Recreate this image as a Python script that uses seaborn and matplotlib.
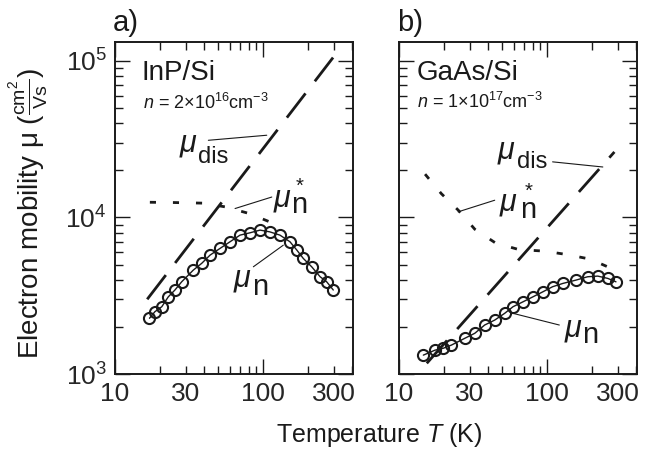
import numpy as np
import matplotlib
matplotlib.use("Agg")
import matplotlib.pyplot as plt
import seaborn as sb
from matplotlib.ticker import FixedLocator, LogLocator, NullFormatter

# DATA
#-----------------------
# panel a) InP/Si
inp_T = [17.1, 18.6, 20.7, 22.9, 25.4, 28.2, 33.8, 38.5, 43.9, 51.2, 59.8, 69.9,
         81.7, 95.4, 111, 130, 152, 169, 187, 213, 243, 269, 298]
inp_mu = [2270, 2500, 2690, 3110, 3440, 3880, 4610, 5090, 5750, 6340, 6990, 7710,
          7980, 8300, 8090, 7710, 6990, 6190, 5470, 4840, 4180, 3880, 3440]
inp_dis_T = [16.5, 297]
inp_dis_mu = [3000, 105000]
inp_star_T = [17.2, 25, 39.3, 55.3, 80.4, 115]
inp_star_mu = [12500, 12450, 12340, 11690, 10600, 9240]

# panel b) GaAs/Si
gaas_T = [14.6, 17.5, 19.9, 22.6, 27.8, 32.5, 37.9, 44.3, 51.7, 58.9, 68.7, 80.2,
          93.7, 109, 128, 157, 188, 220, 257, 292]
gaas_mu = [1320, 1420, 1460, 1530, 1690, 1820, 2055, 2210, 2440, 2690, 2890, 3110,
           3350, 3610, 3790, 3980, 4180, 4220, 4080, 3880]
gaas_dis_T = [15.4, 285]
gaas_dis_mu = [1170, 26200]
gaas_star_T = [15.0, 19.3, 25.1, 32.5, 45, 64.7, 96, 136, 195, 274]
gaas_star_mu = [18900, 14200, 11140, 8410, 6855, 6230, 6095, 5795, 5420, 4710]

x_minor = [20, 30, 40, 50, 60, 70, 80, 90, 200, 300, 400]
x_minor_labels = ["", "30", "", "", "", "", "", "", "", "300", ""]

# STYLE
#-----------------------
sb.set_style("ticks")
plt.rcParams["font.family"] = ["Liberation Sans", "DejaVu Sans"]
plt.rcParams["mathtext.fontset"] = "custom"
plt.rcParams["mathtext.rm"] = "Liberation Sans"
plt.rcParams["mathtext.it"] = "Liberation Sans:italic"
plt.rcParams["mathtext.bf"] = "Liberation Sans:bold"

ink = "#1a1a1a"

fig = plt.figure(figsize=(6.51, 4.55), dpi=100)
ax_a = fig.add_axes([115/651, 1-374/455, 238/651, 332/455])
ax_b = fig.add_axes([399/651, 1-374/455, 238/651, 332/455])


def draw_panel(ax, T, mu, dis_T, dis_mu, star_T, star_mu):
    sb.lineplot(x=dis_T, y=dis_mu, ax=ax, color=ink, lw=2,
                linestyle=(0, (11, 5.5)))
    sb.lineplot(x=star_T, y=star_mu, ax=ax, color=ink, lw=2,
                linestyle=(0, (2.2, 6.1)))
    sb.lineplot(x=T, y=mu, ax=ax, color=ink, lw=1, marker="o", markersize=8,
                markerfacecolor="none", markeredgecolor=ink, markeredgewidth=1.5)
    ax.set_xscale("log")
    ax.set_yscale("log")
    ax.set_xlim(10, 405)
    ax.set_ylim(1e3, 1.32e5)
    ax.set_xticks([10, 100], labels=["10", "100"])
    ax.set_xticks(x_minor, labels=x_minor_labels, minor=True)
    ax.yaxis.set_major_locator(FixedLocator([1e3, 1e4, 1e5]))
    ax.yaxis.set_minor_locator(LogLocator(base=10, subs=range(2, 10)))
    ax.yaxis.set_minor_formatter(NullFormatter())
    ax.set_yticks([1e3, 1e4, 1e5], labels=[r"$10^{3}$", r"$10^{4}$", r"$10^{5}$"])
    ax.tick_params(which="both", direction="in", top=True, right=True,
                   width=1, color=ink, labelsize=19, pad=6)
    ax.tick_params(which="major", length=11)
    ax.tick_params(which="minor", length=5.5)
    ax.set_xlabel("")
    ax.set_ylabel("")
    for sp in ax.spines.values():
        sp.set_linewidth(1.4)
        sp.set_color(ink)


def mu_label(ax, mu_pos, sub, sub_pos, subsize):
    ax.text(*mu_pos, r"$\mu$", fontsize=22, ha="left", va="baseline", color=ink)
    ax.text(*sub_pos, sub, fontsize=subsize, ha="left", va="baseline", color=ink)


def leader(ax, p0, p1):
    ax.plot([p0[0], p1[0]], [p0[1], p1[1]], color=ink, lw=0.8)


draw_panel(ax_a, inp_T, inp_mu, inp_dis_T, inp_dis_mu, inp_star_T, inp_star_mu)
draw_panel(ax_b, gaas_T, gaas_mu, gaas_dis_T, gaas_dis_mu, gaas_star_T, gaas_star_mu)
ax_b.tick_params(labelleft=False)

star_n = r"$\overset{*}{\mathrm{n}}$"

# panel a labels
mu_label(ax_a, (27.1, 26500), "dis", (36.5, 22200), 17)
leader(ax_a, (42.7, 31100), (105.9, 33500))
mu_label(ax_a, (116.8, 11800), star_n, (155, 10500), 21)
leader(ax_a, (64.7, 11400), (114.5, 13500))
mu_label(ax_a, (62.7, 3644), "n", (84.5, 3193), 21)
leader(ax_a, (86, 4840), (137, 6650))
ax_a.text(0.113, 0.907, "InP/Si", transform=ax_a.transAxes, fontsize=20,
          ha="left", va="center", color=ink)
ax_a.text(0.118, 0.816, r"$n$ = 2×10$^{16}$cm$^{-3}$", transform=ax_a.transAxes,
          fontsize=13, ha="left", va="center", color=ink)

# panel b labels
mu_label(ax_b, (45.7, 23900), "dis", (62.5, 20600), 17)
leader(ax_b, (109, 22650), (238, 21000))
mu_label(ax_b, (47.1, 11130), star_n, (65.5, 9740), 21)
leader(ax_b, (25.1, 10860), (44.3, 12880))
mu_label(ax_b, (131, 1748), "n", (173, 1577), 21)
leader(ax_b, (58.9, 2440), (121, 2055))
ax_b.text(0.076, 0.906, "GaAs/Si", transform=ax_b.transAxes, fontsize=20,
          ha="left", va="center", color=ink)
ax_b.text(0.076, 0.819, r"$n$ = 1×10$^{17}$cm$^{-3}$", transform=ax_b.transAxes,
          fontsize=13, ha="left", va="center", color=ink)

fig.text(113/651, 1-23/455, "a)", fontsize=21, ha="left", va="center", color=ink)
fig.text(397/651, 1-23/455, "b)", fontsize=21, ha="left", va="center", color=ink)
fig.text(29/651, 1-213/455, r"Electron mobility μ ($\frac{\mathrm{cm}^2}{\mathrm{Vs}}$)",
         rotation=90, ha="center", va="center", fontsize=20, color=ink)
fig.text(379/651, 1-435/455, r"Temperature $T$ (K)", ha="center", va="center",
         fontsize=18, color=ink)

fig.savefig("out.png", dpi=100)
